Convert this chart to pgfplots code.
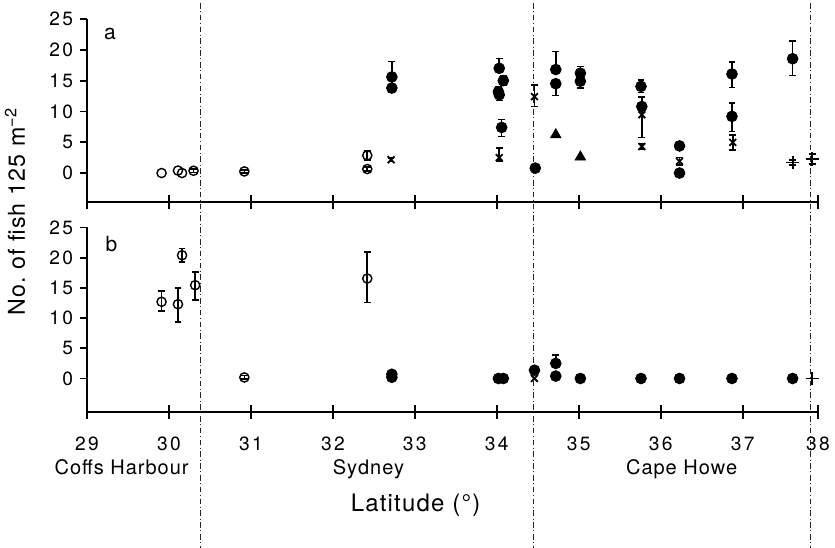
\documentclass[border=0pt]{standalone}
\usepackage{fontspec}
\setmainfont{TeX Gyre Heros}[LetterSpace=5]
\usepackage{pgfplots}
\pgfplotsset{compat=1.18}
\tikzset{sepline/.style={black!85, line width=0.55pt, dash pattern=on 2.8pt off 1.3pt on 0.5pt off 1.3pt}}
\pgfplotsset{
  base/.style={
    scale only axis, width=365.5pt,
    xmin=29, xmax=37.92,
    axis line style={line width=0.9pt, -},
    xtick={29,30,31,32,33,34,35,36,37,37.92},
    tick style={line width=0.9pt, black},
    major tick length=3.5pt,
    clip=false,
  },
  panel/.style={base,
    axis x line*=bottom, axis y line*=left,
    ytick={0,5,10,15,20,25},
    xtick align=inside, ytick align=outside,
    /pgf/number format/assume math mode=true,
    ticklabel style={font=\fontsize{9.6}{11}\selectfont\addfontfeature{LetterSpace=12}},
    xticklabel style={yshift=-9pt},
  },
  overlay/.style={base,
    axis x line*=bottom, axis y line=none,
    xtick align=outside, xticklabels={},
  },
  fc/.style={only marks, mark=*, mark size=2.7pt, black, mark options={fill=black, draw=black}},
  oc/.style={only marks, mark=o, mark size=2.3pt, black, line width=0.7pt, mark options={fill=none, draw=black}},
  cr/.style={only marks, mark=x, mark size=2.4pt, black, line width=0.9pt},
  tr/.style={only marks, mark=triangle*, mark size=3pt, black, mark options={fill=black}},
  pl/.style={only marks, mark=+, mark size=3.3pt, black, line width=0.9pt},
  eb/.style={error bars/.cd, y dir=both, y explicit,
    error bar style={line width=0.8pt, black},
    error mark options={rotate=90, black, mark size=1.7pt, line width=0.8pt}},
}
\begin{document}
\begin{tikzpicture}
\path[use as bounding box] (0,0) rectangle (417.5pt,273.5pt);
% ---------------- panel a ----------------
\begin{axis}[overlay, at={(43.5pt,172.35pt)}, anchor=south west,
  height=91.65pt, ymin=-4.75, ymax=25]
\end{axis}
\begin{axis}[panel, at={(43.5pt,172.35pt)}, anchor=south west,
  height=91.65pt, ymin=-4.75, ymax=25, xticklabels={}]
\addplot[fc, eb] coordinates {
 (32.72,15.6) += (0,2.5) -= (0,0.4)
 (32.72,13.8) += (0,0.4) -= (0,0.6)
 (34.03,17.0) += (0,1.6) -= (0,0.5)
 (34.08,15.0) += (0,0.8) -= (0,0.8)
 (34.02,13.2) += (0,0.8) -= (0,0.8)
 (34.03,12.7) += (0,0.5) -= (0,0.9)
 (34.06,7.4) += (0,1.3) -= (0,1.5)
 (34.72,16.8) += (0,2.9) -= (0,0.4)
 (34.72,14.5) += (0,0.4) -= (0,1.9)
 (35.02,16.2) += (0,1.1) -= (0,0.4)
 (35.02,14.9) += (0,0.4) -= (0,1.1)
 (35.76,14.06) += (0,1.0) -= (0,1.0)
 (35.77,10.8) += (0,1.5) -= (0,0.6)
 (36.23,4.4) += (0,0.3) -= (0,0.4)
 (36.87,16.07) += (0,2.0) -= (0,2.2)
 (36.87,9.2) += (0,2.2) -= (0,2.45)
 (37.61,18.55) += (0,2.85) -= (0,2.75)
};
\addplot[fc] coordinates {(34.47,0.8) (36.23,0.0)};
\addplot[cr, eb] coordinates {
 (32.71,2.16) += (0,0.3) -= (0,0.3)
 (34.03,2.5) += (0,1.6) -= (0,0.5)
 (34.46,12.4) += (0,1.9) -= (0,1.6)
 (35.77,9.46) += (0,1.2) -= (0,3.7)
 (35.77,4.3) += (0,0.5) -= (0,0.5)
 (36.23,1.9) += (0,0.6) -= (0,0.6)
 (36.88,4.97) += (0,1.2) -= (0,1.2)
};
\addplot[tr] coordinates {(34.72,6.2) (35.02,2.6)};
\addplot[pl, eb] coordinates {
 (37.61,1.72) += (0,0.4) -= (0,0.4)
 (37.85,2.27) += (0,0.8) -= (0,0.8)
};
\addplot[oc] coordinates {(29.91,0.0) (30.11,0.4) (30.16,0.0)};
\addplot[oc, eb] coordinates {
 (30.30,0.37) += (0,0.3) -= (0,0.3)
 (30.92,0.26) += (0,0.25) -= (0,0.25)
 (32.42,2.86) += (0,0.7) -= (0,0.7)
 (32.42,0.65) += (0,0.3) -= (0,0.3)
};
\node[font=\fontsize{10.5}{12}\selectfont] at (axis cs:29.28,22.6) {a};
\draw[sepline] (axis cs:30.38,27.6) -- (axis cs:30.38,-61);
\draw[sepline] (axis cs:34.45,27.6) -- (axis cs:34.45,-61);
\draw[sepline] (axis cs:37.83,27.6) -- (axis cs:37.83,-61);
\end{axis}
% ---------------- panel b ----------------
\begin{axis}[overlay, at={(43.5pt,67.65pt)}, anchor=south west,
  height=92.1pt, ymin=-5.5, ymax=25]
\end{axis}
\begin{axis}[panel, at={(43.5pt,67.65pt)}, anchor=south west,
  height=92.1pt, ymin=-5.5, ymax=25,
  xticklabels={29,30,31,32,33,34,35,36,37,38}]
\addplot[oc, eb] coordinates {
 (29.91,12.7) += (0,1.75) -= (0,1.5)
 (30.11,12.3) += (0,2.7) -= (0,2.9)
 (30.16,20.4) += (0,1.1) -= (0,1.1)
 (30.32,15.45) += (0,2.2) -= (0,2.5)
 (30.92,0.17) += (0,0.3) -= (0,0.3)
 (32.42,16.55) += (0,4.35) -= (0,3.95)
};
\addplot[fc] coordinates {
 (32.72,0.2) (32.72,0.7) (34.02,0) (34.08,0) (34.46,1.37)
 (34.72,0.4) (35.02,0) (35.76,0) (36.23,0) (36.87,0) (37.61,0)
};
\addplot[fc, eb] coordinates {(34.72,2.5) += (0,1.4) -= (0,0.3)};
\addplot[cr] coordinates {(34.46,0)};
\addplot[pl] coordinates {(37.85,0)};
\node[font=\fontsize{10.5}{12}\selectfont] at (axis cs:29.3,22.2) {b};
\end{axis}
% ---------------- texts ----------------
\node[rotate=90, anchor=base, font=\fontsize{11.6}{14}\selectfont] at (12.5pt,167.75pt) {No.\ of fish 125 m\textsuperscript{−2}};
\node[anchor=base, font=\fontsize{12}{14}\selectfont] at (207.8pt,17.7pt) {Latitude (°)};
\node[anchor=base, font=\fontsize{10}{12}\selectfont] at (60.8pt,36.5pt) {Coffs Harbour};
\node[anchor=base, font=\fontsize{10}{12}\selectfont] at (184.2pt,36.5pt) {Sydney};
\node[anchor=base, font=\fontsize{10}{12}\selectfont] at (340.8pt,36.5pt) {Cape Howe};
\end{tikzpicture}
\end{document}
